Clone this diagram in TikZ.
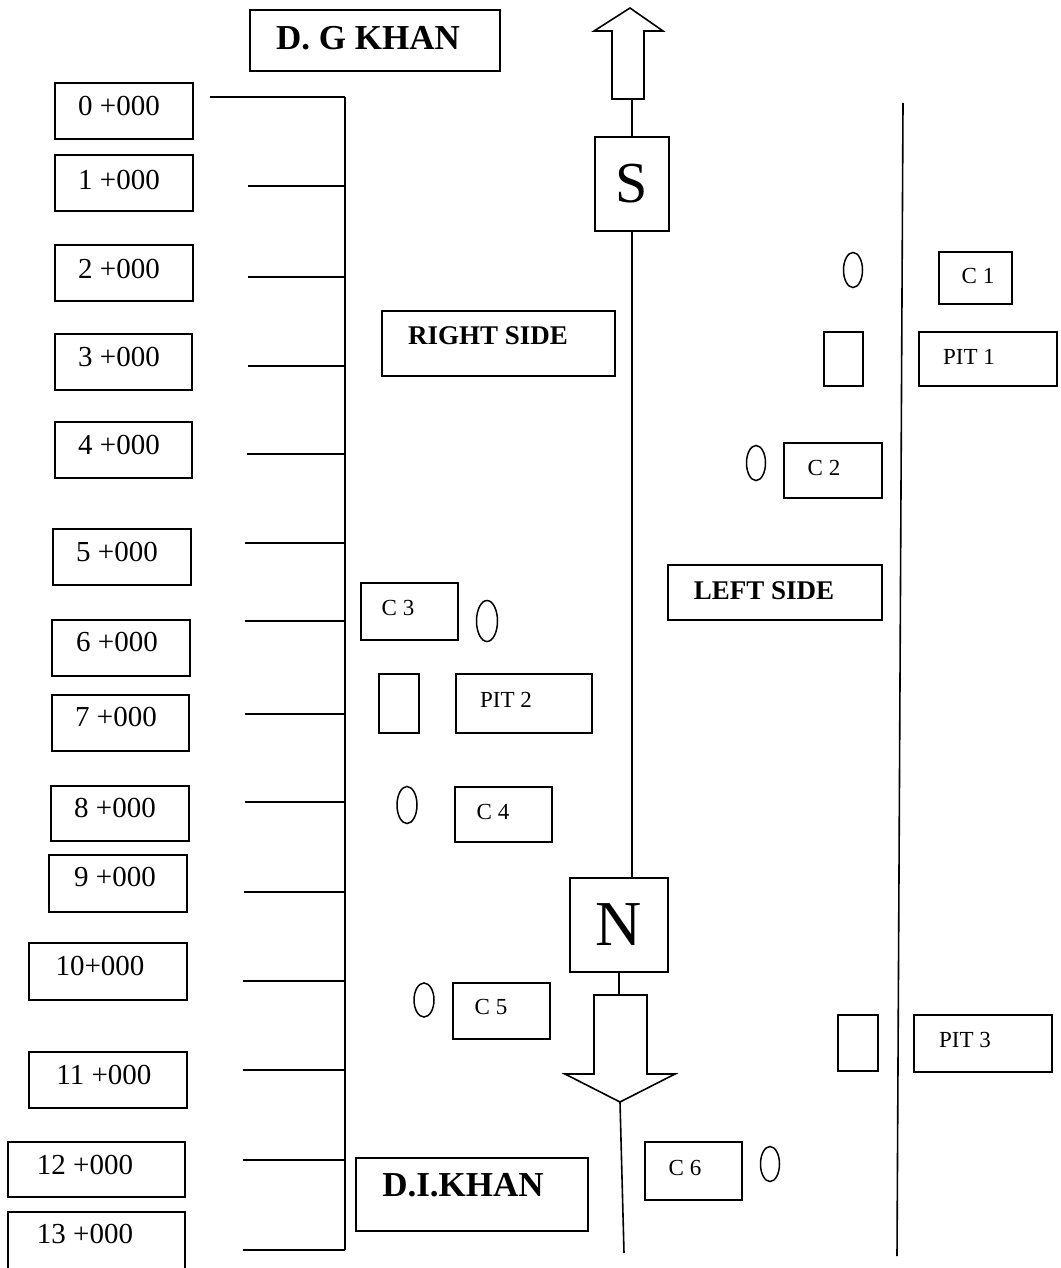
\documentclass[tikz,border=0pt]{standalone}
\usepackage{fontspec}
\setmainfont{Liberation Serif}
\usetikzlibrary{shapes.geometric}
\begin{document}
\begin{tikzpicture}[x=1pt,y=-1pt,
  line width=1.6pt,
  box/.style={draw, rectangle, inner sep=0pt, line width=1.6pt},
  kmtext/.style={inner sep=0pt, font=\fontsize{29}{29}\selectfont},
  smalltext/.style={inner sep=0pt, font=\fontsize{23}{23}\selectfont},
  boldtext/.style={inner sep=0pt, font=\fontsize{27}{27}\selectfont\bfseries},
  bigbold/.style={inner sep=0pt, font=\fontsize{35}{35}\selectfont\bfseries},
  oval/.style={draw, ellipse, inner sep=0pt, line width=1.5pt},
  road/.style={line width=1.6pt}
]
\useasboundingbox (0,0) rectangle (1060,1268);
\fill[white] (0,0) rectangle (1060,1268);

% helper: box by corners
\newcommand{\mybox}[5]{\node[box, minimum width=#3-#1, minimum height=#4-#2] (#5) at ({(#1+#3)/2},{(#2+#4)/2}) {};}

% ---------- kilometre boxes ----------
\mybox{55}{83}{193}{139}{k0}
\mybox{55}{155}{193}{211}{k1}
\mybox{55}{245}{193}{301}{k2}
\mybox{55}{334}{192}{390}{k3}
\mybox{55}{422}{192}{478}{k4}
\mybox{53}{529}{191}{585}{k5}
\mybox{52}{620}{190}{676}{k6}
\mybox{52}{695}{189}{751}{k7}
\mybox{51}{786}{189}{841}{k8}
\mybox{49}{855}{187}{912}{k9}
\mybox{29}{943}{187}{1000}{k10}
\mybox{29}{1052}{187}{1108}{k11}
\mybox{8}{1142}{185}{1197}{k12}
\mybox{8}{1212}{185}{1270}{k13}

\node[kmtext] (tk0) at (119,106) {0 +000};
\node[kmtext] (tk1) at (119,180) {1 +000};
\node[kmtext] (tk2) at (119,269) {2 +000};
\node[kmtext] (tk3) at (119,357) {3 +000};
\node[kmtext] (tk4) at (119,445) {4 +000};
\node[kmtext] (tk5) at (117,552) {5 +000};
\node[kmtext] (tk6) at (117,642) {6 +000};
\node[kmtext] (tk7) at (116,717) {7 +000};
\node[kmtext] (tk8) at (115,808) {8 +000};
\node[kmtext] (tk9) at (115,877) {9 +000};
\node[kmtext] (tk10) at (100,966) {10+000};
\node[kmtext] (tk11) at (104,1075) {11 +000};
\node[kmtext] (tk12) at (85,1165) {12 +000};
\node[kmtext] (tk13) at (85,1234) {13 +000};

% ---------- chainage line and ticks ----------
\coordinate (ltop) at (345,97);
\coordinate (lbot) at (345,1250);
\draw (ltop) -- (lbot);
\foreach \n/\xs/\yy in {0/210/97, 1/248/186, 2/248/277, 3/248/366, 4/247/454, 5/245/543,
  6/245/621, 7/245/714, 8/245/802, 9/244/892, 10/243/981, 11/243/1070, 12/243/1160, 13/243/1250}{
  \coordinate (ts\n) at (\xs,\yy);
  \coordinate (te\n) at (345,\yy);
  \draw (ts\n) -- (te\n);
}

% ---------- title boxes ----------
\mybox{250}{10}{500}{71}{dgk}
\node[bigbold] (dgkt) at (368,38) {D. G KHAN};
\mybox{356}{1158}{588}{1231}{dik}
\node[bigbold] (dikt) at (463,1185) {D.I.KHAN};
\mybox{382}{311}{615}{376}{rs}
\node[boldtext] (rst) at (488,336) {RIGHT SIDE};
\mybox{668}{565}{882}{620}{ls}
\node[boldtext] (lst) at (764,591) {LEFT SIDE};

% ---------- road centre line ----------
\node[box, minimum width=74, minimum height=94] (S) at (632,184)
  {\fontsize{58}{58}\selectfont S};
\node[box, minimum width=98, minimum height=94] (N) at (619,925)
  {\fontsize{64}{64}\selectfont N};

% up arrow
\coordinate (upbase) at (630,99);
\draw[line width=1.6pt, line join=miter]
  (612,99) -- (612,31) -- (594,31) -- (630,8) -- (663,31) -- (644,31) -- (644,99) -- cycle;
% down arrow
\draw[line width=1.6pt, line join=miter]
  (594,995) -- (647,995) -- (647,1074) -- (675,1074) -- (620,1102) -- (565,1074) -- (594,1074) -- cycle;
\coordinate (dntop) at (620,995);
\coordinate (dntip) at (620,1102);
\coordinate (rbot) at (624,1253);

\draw[road] (S.north) -- (S.north |- upbase);
\draw[road] (S.south) -- (S.south |- N.north);
\draw[road] (N.south) -- (N.south |- dntop);
\draw[road] (dntip) -- (rbot);

% ---------- right boundary line ----------
\coordinate (rtop) at (903,103);
\coordinate (rbt) at (897,1256);
\draw (rtop) -- (rbt);

% ---------- structures ----------
% C1
\node[oval, minimum width=19, minimum height=35] (o1) at (853,270) {};
\mybox{939}{252}{1012}{304}{c1}
\node[smalltext] (c1t) at (978,276) {C 1};
% PIT 1
\mybox{824}{332}{863}{386}{p1s}
\mybox{919}{332}{1057}{386}{p1}
\node[smalltext] (p1t) at (969,357) {PIT 1};
% C2
\node[oval, minimum width=19, minimum height=35] (o2) at (756,463) {};
\mybox{784}{443}{882}{498}{c2}
\node[smalltext] (c2t) at (824,468) {C 2};
% C3
\mybox{361}{583}{458}{640}{c3}
\node[smalltext] (c3t) at (398,608) {C 3};
\node[oval, minimum width=21, minimum height=41] (o3) at (487,621) {};
% PIT 2
\mybox{379}{674}{419}{733}{p2s}
\mybox{456}{674}{592}{733}{p2}
\node[smalltext] (p2t) at (506,700) {PIT 2};
% C4
\node[oval, minimum width=20, minimum height=37] (o4) at (407,805) {};
\mybox{455}{787}{552}{842}{c4}
\node[smalltext] (c4t) at (493,812) {C 4};
% C5
\node[oval, minimum width=20, minimum height=34] (o5) at (424,1000) {};
\mybox{453}{983}{550}{1039}{c5}
\node[smalltext] (c5t) at (491,1007) {C 5};
% PIT 3
\mybox{838}{1015}{878}{1071}{p3s}
\mybox{914}{1015}{1052}{1072}{p3}
\node[smalltext] (p3t) at (965,1040) {PIT 3};
% C6
\mybox{645}{1142}{742}{1200}{c6}
\node[smalltext] (c6t) at (685,1168) {C 6};
\node[oval, minimum width=19, minimum height=35] (o6) at (770,1164) {};
\end{tikzpicture}
\end{document}
